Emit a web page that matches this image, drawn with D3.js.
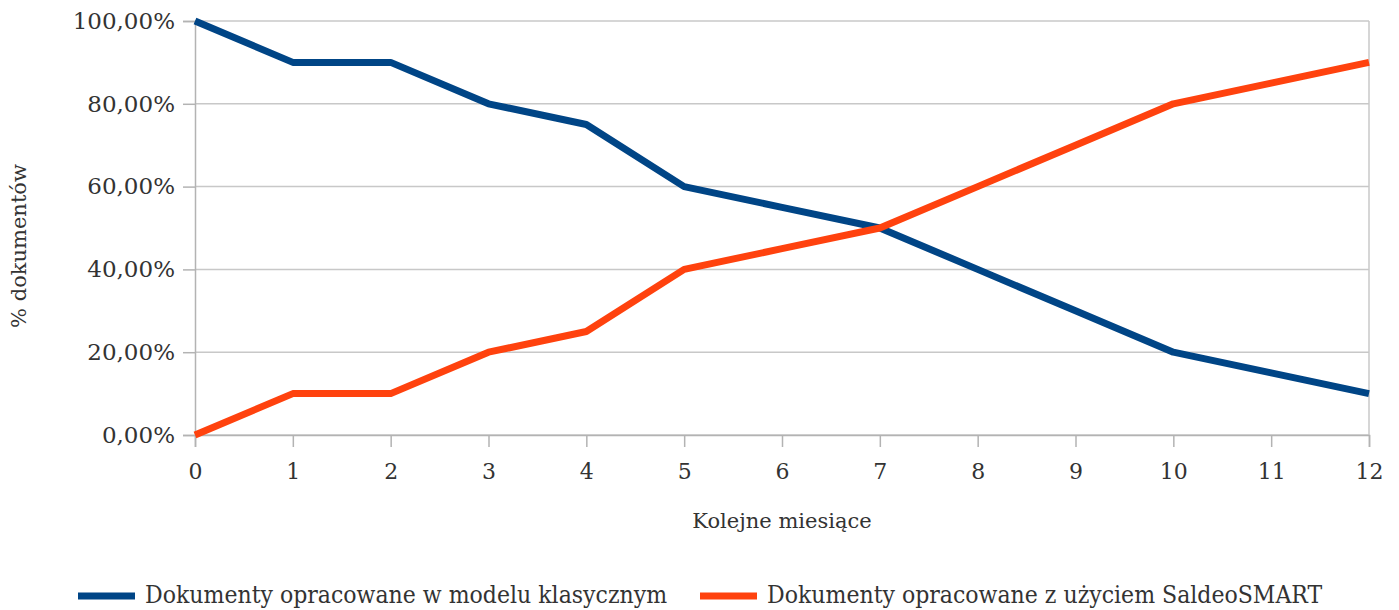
<!DOCTYPE html>
<html><head><meta charset="utf-8">
<script src="https://cdn.jsdelivr.net/npm/d3@7"></script>
<style>body{margin:0;background:#fff}svg{display:block}</style>
</head><body>
<script>
const months = [0,1,2,3,4,5,6,7,8,9,10,11,12];
const classic = [100,90,90,80,75,60,55,50,40,30,20,15,10];
const saldeo = [0,10,10,20,25,40,45,50,60,70,80,85,90];
const yTicks = [0,20,40,60,80,100];
const seriesNames = ["Dokumenty opracowane w modelu klasycznym","Dokumenty opracowane z użyciem SaldeoSMART"];
const colors = ["#004586","#ff420e"];

const W=1399,H=610;
const svg=d3.select("body").append("svg").attr("width",W).attr("height",H);
const x=d3.scaleLinear().domain([0,12]).range([195,1369]);
const y=d3.scaleLinear().domain([0,100]).range([435,21]);
const tickFont="'DejaVu Serif', serif";
const textCol="#333";

svg.append("g").selectAll("line").data(yTicks).join("line")
  .attr("x1",x(0)).attr("x2",x(12)).attr("y1",d=>y(d)).attr("y2",d=>y(d))
  .attr("stroke","#c8c8c8").attr("stroke-width",1.5);
svg.append("line").attr("x1",x(12)).attr("x2",x(12)).attr("y1",y(100)).attr("y2",y(0)).attr("stroke","#c8c8c8").attr("stroke-width",1.5);

const fmt=d=>d.toFixed(2).replace(".",",")+"%";
const yAxis=svg.append("g").attr("transform",`translate(${x(0)},0)`)
  .call(d3.axisLeft(y).tickValues(yTicks).tickFormat(fmt).tickSize(12).tickPadding(8));
const xAxis=svg.append("g").attr("transform",`translate(0,${y(0)})`)
  .call(d3.axisBottom(x).tickValues(months).tickFormat(d3.format("d")).tickSize(12).tickPadding(16));
[yAxis,xAxis].forEach(a=>{
  a.select(".domain").attr("stroke","#b3b3b3").attr("stroke-width",1.5);
  a.selectAll(".tick line").attr("stroke","#b3b3b3").attr("stroke-width",1.5);
  a.selectAll("text").attr("fill",textCol).style("font-family",tickFont);
});
yAxis.selectAll("text").style("font-size","23px");
xAxis.selectAll("text").style("font-size","22px");

const line=d3.line().x((d,i)=>x(months[i])).y(d=>y(d));
[classic,saldeo].forEach((s,k)=>{
  svg.append("path").datum(s).attr("d",line).attr("fill","none")
    .attr("stroke",colors[k]).attr("stroke-width",7).attr("stroke-linejoin","round");
});

svg.append("text").attr("x",(x(0)+x(12))/2).attr("y",528).attr("text-anchor","middle")
  .attr("fill",textCol).style("font-family",tickFont).style("font-size","21px").text("Kolejne miesiące");
svg.append("text").attr("transform",`translate(26,246) rotate(-90)`).attr("text-anchor","middle")
  .attr("fill",textCol).style("font-family",tickFont).style("font-size","21px").text("% dokumentów");

const legFont="'DejaVu Serif Condensed','DejaVu Serif',serif";
const legX=[78,700];
seriesNames.forEach((n,k)=>{
  svg.append("line").attr("x1",legX[k]).attr("x2",legX[k]+57).attr("y1",596).attr("y2",596)
    .attr("stroke",colors[k]).attr("stroke-width",7);
  svg.append("text").attr("x",legX[k]+67).attr("y",603).attr("fill",textCol)
    .style("font-family",legFont).style("font-size","24.5px").text(n);
});
</script>
</body></html>
